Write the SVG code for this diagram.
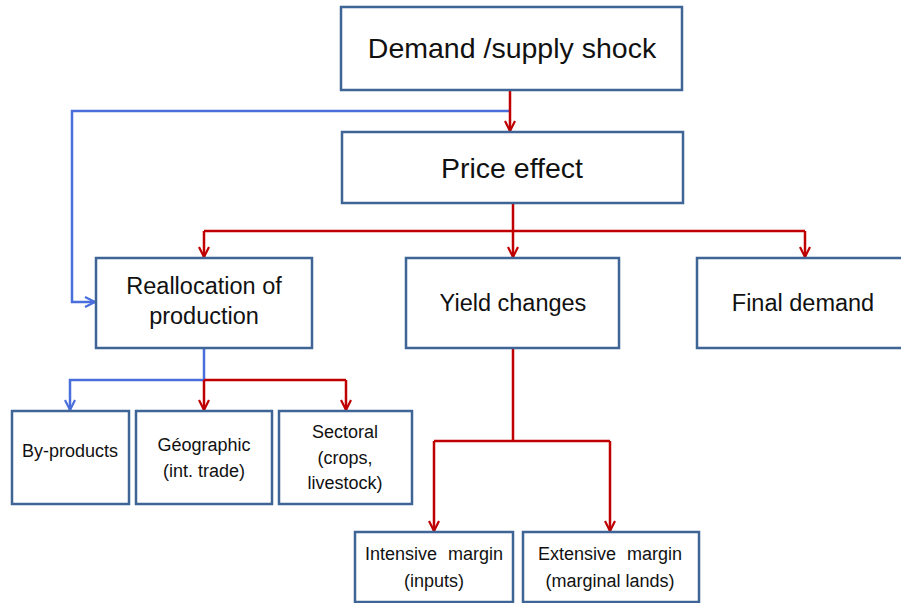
<svg xmlns="http://www.w3.org/2000/svg" width="901" height="603" viewBox="0 0 901 603">
  <defs>
    <style>
      .box { fill: #ffffff; stroke: #3E6595; stroke-width: 2.5; }
      .lbl { font-family: "Liberation Sans", Arial, sans-serif; fill: #111111; text-anchor: middle; }
      .big { font-size: 28.5px; }
      .mid { font-size: 23.5px; }
      .sm { font-size: 18px; }
      .red { fill: none; stroke: #C00000; stroke-width: 2.5; }
      .blue { fill: none; stroke: #4A6FDC; stroke-width: 2.5; }
    </style>
    <marker id="arrRed" viewBox="0 0 12 12" refX="11" refY="6" markerWidth="12" markerHeight="12" markerUnits="userSpaceOnUse" orient="auto">
      <path d="M1,1 L11,6 L1,11" fill="none" stroke="#C00000" stroke-width="2.2"/>
    </marker>
    <marker id="arrBlue" viewBox="0 0 12 12" refX="11" refY="6" markerWidth="12" markerHeight="12" markerUnits="userSpaceOnUse" orient="auto">
      <path d="M1,1 L11,6 L1,11" fill="none" stroke="#4A6FDC" stroke-width="2.2"/>
    </marker>
  </defs>

  <rect width="901" height="603" fill="#ffffff"/>

  <!-- connectors -->
  <g id="connectors">
    <path class="blue" d="M510,111 L72,111 L72,302 L95,302" marker-end="url(#arrBlue)"/>
    <path class="red" d="M510,91 L510,131" marker-end="url(#arrRed)"/>
    <path class="red" d="M513,204 L513,231"/>
    <path class="red" d="M204,231 L805,231"/>
    <path class="red" d="M204,231 L204,257" marker-end="url(#arrRed)"/>
    <path class="red" d="M513,231 L513,257" marker-end="url(#arrRed)"/>
    <path class="red" d="M805,231 L805,257" marker-end="url(#arrRed)"/>
    <path class="blue" d="M204,349 L204,380 L70,380 L70,410" marker-end="url(#arrBlue)"/>
    <path class="red" d="M204,380 L346,380"/>
    <path class="red" d="M204,380 L204,410" marker-end="url(#arrRed)"/>
    <path class="red" d="M346,380 L346,410" marker-end="url(#arrRed)"/>
    <path class="red" d="M513,349 L513,441"/>
    <path class="red" d="M434,441 L610,441"/>
    <path class="red" d="M434,441 L434,531" marker-end="url(#arrRed)"/>
    <path class="red" d="M610,441 L610,531" marker-end="url(#arrRed)"/>
  </g>

  <g id="shock">
    <rect class="box" x="341" y="7" width="341" height="83"/>
    <text class="lbl big" x="512" y="58">Demand /supply shock</text>
  </g>
  <g id="price">
    <rect class="box" x="342" y="132" width="341" height="71"/>
    <text class="lbl big" x="512" y="178">Price effect</text>
  </g>
  <g id="realloc">
    <rect class="box" x="96" y="258" width="216" height="90"/>
    <text class="lbl mid" x="204" y="294">Reallocation of</text>
    <text class="lbl mid" x="204" y="324">production</text>
  </g>
  <g id="yield">
    <rect class="box" x="406" y="258" width="213" height="90"/>
    <text class="lbl mid" x="513" y="311">Yield changes</text>
  </g>
  <g id="final">
    <rect class="box" x="697" y="258" width="210" height="90"/>
    <text class="lbl mid" x="803" y="311">Final demand</text>
  </g>
  <g id="byproducts">
    <rect class="box" x="12" y="411" width="117" height="93"/>
    <text class="lbl sm" x="70" y="457">By-products</text>
  </g>
  <g id="geographic">
    <rect class="box" x="136" y="411" width="136" height="93"/>
    <text class="lbl sm" x="204" y="451">Géographic</text>
    <text class="lbl sm" x="204" y="477">(int. trade)</text>
  </g>
  <g id="sectoral">
    <rect class="box" x="279" y="411" width="133" height="93"/>
    <text class="lbl sm" x="345" y="438">Sectoral</text>
    <text class="lbl sm" x="345" y="464">(crops,</text>
    <text class="lbl sm" x="345" y="489">livestock)</text>
  </g>
  <g id="intensive">
    <rect class="box" x="355" y="532" width="158" height="70"/>
    <text class="lbl sm" x="434" y="560" word-spacing="6">Intensive margin</text>
    <text class="lbl sm" x="434" y="587">(inputs)</text>
  </g>
  <g id="extensive">
    <rect class="box" x="523" y="532" width="176" height="70"/>
    <text class="lbl sm" x="610" y="560" word-spacing="6">Extensive margin</text>
    <text class="lbl sm" x="610" y="587">(marginal lands)</text>
  </g>
</svg>
